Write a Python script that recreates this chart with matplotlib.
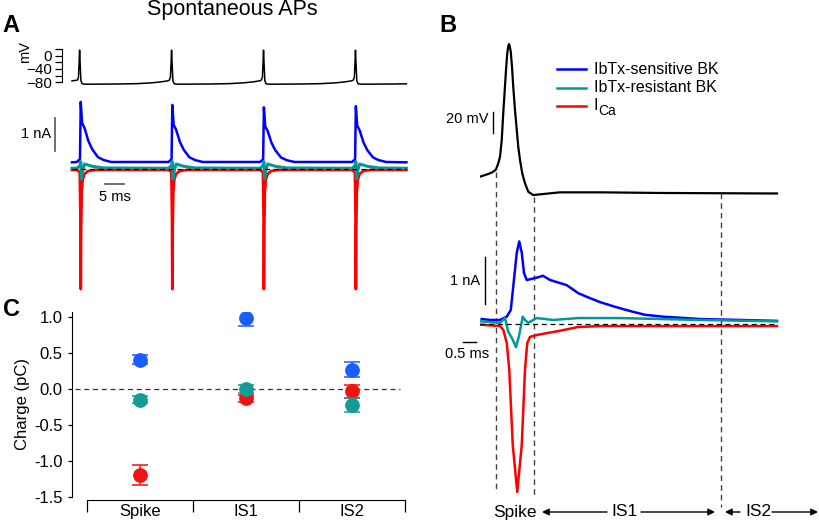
import numpy as np
import matplotlib
matplotlib.use('Agg')
import matplotlib.pyplot as plt
from matplotlib.transforms import blended_transform_factory

plt.rcParams['font.family'] = ['Liberation Sans', 'DejaVu Sans']

W, H = 820, 521

BLUE = '#0000ff'
TEAL = '#009a96'
RED = '#ff0000'
BLUE_M = '#1a5cff'
TEAL_M = '#139c94'
RED_M = '#f21212'

# ---------------- data ----------------
# A, top: spontaneous APs (time ms, mV)
ap_peak_times = [2.0, 26.2, 50.4, 74.6]
ap_dt = [-0.6, -0.3, -0.12, 0.0, 0.15, 0.35, 0.7, 1.5]
ap_mv = [-74, -66, -20, 16, -25, -76, -85, -86]
isi_dt = [4, 10, 15, 19, 21.5, 23.2]
isi_mv = [-86, -85.5, -84.5, -82, -79, -76]
a_start = (0.0, -76)
a_end = (88.0, -85)

# A, bottom: currents during the APs (time ms, nA)
cur_peak_times = [2.3, 26.4, 50.5, 74.7]
blue_dt = [-1.0, -0.2, 0.0, 0.35, 0.5, 1.0, 2.0, 3.0, 4.5, 6.0, 8.0]
blue_na = [0.21, 0.3, 2.03, 1.39, 1.36, 1.24, 0.85, 0.6, 0.36, 0.27, 0.21]
blue_amp = [1.0, 0.95, 0.91, 0.93]
red_dt = [-1.0, -0.25, -0.08, 0.0, 0.1, 0.25, 0.5, 1.0, 2.0, 4.0]
red_na = [-0.03, -0.1, -1.5, -3.64, -1.8, -0.7, -0.33, -0.15, -0.06, -0.03]
teal_dt = [-1.0, -0.2, 0.0, 0.2, 0.5, 1.0, 3.0, 6.0]
teal_na = [0.02, 0.1, 0.22, -0.3, -0.05, 0.15, 0.08, 0.03]

# B: single AP and currents (time ms)
b_t_v = [0, 0.32, 0.48, 0.6, 0.64, 0.73, 0.8, 0.87, 0.93, 0.99, 1.04, 1.09,
         1.13, 1.16, 1.19, 1.23, 1.28, 1.33, 1.4, 1.47, 1.53, 1.6, 1.69, 1.8,
         1.93, 2.13, 2.53, 3.2, 4.8, 7.2, 11.88]
b_mv = [-63.5, -61, -59.5, -57.5, -56.5, -50.8, -44.5, -28.6, -2.9, 19.0,
        38.1, 53.9, 60.9, 62.8, 60.9, 55.5, 41.2, 22.1, 0.0, -19.1, -35,
        -47.6, -60.3, -69.8, -77.8, -81, -80, -78.4, -78.4, -79, -79.5]

b_t_blue = [0.07, 0.4, 0.8, 1.07, 1.23, 1.33, 1.47, 1.57, 1.67, 1.76, 1.87,
            2.27, 2.52, 2.8, 3.47, 3.93, 4.28, 4.8, 5.4, 6.0, 6.6, 7.32,
            8.8, 10.4, 11.88]
b_blue = [0.11, 0.09, 0.09, 0.16, 0.3, 0.8, 1.52, 1.76, 1.52, 1.09, 0.94,
          0.99, 1.03, 0.94, 0.83, 0.66, 0.58, 0.47, 0.37, 0.28, 0.2,
          0.16, 0.11, 0.09, 0.07]
b_t_teal = [0, 0.8, 1.0, 1.13, 1.31, 1.44, 1.57, 1.71, 1.8, 1.93, 2.27, 2.93,
            3.92, 5.6, 8.8, 11.88]
b_teal = [0.06, 0.03, 0.13, -0.16, -0.33, -0.49, -0.23, 0.16, 0.09, 0.03,
          0.13, 0.09, 0.13, 0.13, 0.09, 0.06]
b_t_red = [0, 0.8, 0.93, 1.07, 1.17, 1.31, 1.49, 1.67, 1.8, 1.89, 2.0, 2.27,
           2.67, 3.2, 3.92, 4.8, 11.88]
b_red = [-0.01, -0.04, -0.12, -0.4, -0.97, -2.57, -3.57, -2.57, -0.97, -0.4,
         -0.27, -0.23, -0.19, -0.14, -0.06, -0.04, -0.04]
b_bounds = [0.64, 2.17, 9.64]

# C: charge per period (pC)
cats = ['Spike', 'IS1', 'IS2']
q_sens = [0.41, 0.98, 0.27]
q_sens_err = [0.06, 0.11, 0.10]
q_res = [-0.15, 0.0, -0.22]
q_res_err = [0.05, 0.05, 0.10]
q_ca = [-1.20, -0.13, -0.03]
q_ca_err = [0.14, 0.05, 0.09]


def build(peaks, dt, val, t0, v0, t1, v1, gap_dt=None, gap_v=None, amp=None):
    base = val[0]
    t, v = [t0], [v0]
    for i, p in enumerate(peaks):
        a = 1.0 if amp is None else amp[i]
        t += [p + d for d in dt]
        v += [base + a * (y - base) for y in val]
        nxt = peaks[i + 1] + dt[0] if i + 1 < len(peaks) else t1
        if gap_dt:
            for d, y in zip(gap_dt, gap_v):
                if p + d < nxt:
                    t.append(p + d)
                    v.append(y)
    t.append(t1)
    v.append(v1)
    return t, v


fig = plt.figure(figsize=(W / 100, H / 100), dpi=100)


def px_axes(x0, y0, x1, y1):
    return fig.add_axes([x0 / W, 1 - y1 / H, (x1 - x0) / W, (y1 - y0) / H])


def fx(x):
    return x / W


def fy(y):
    return 1 - y / H


# ---------------- A: voltage ----------------
axv = px_axes(62, 44, 410, 90)
t, v = build(ap_peak_times, ap_dt, ap_mv, a_start[0], a_start[1],
             a_end[0], a_end[1], isi_dt, isi_mv)
axv.plot(t, v, color='k', lw=1.1)
axv.set_xlim(-10 / 3.8, 338 / 3.8)
axv.set_ylim(-103.5, 34.5)
for s in ['top', 'right', 'bottom']:
    axv.spines[s].set_visible(False)
axv.spines['left'].set_bounds(-80, 20)
axv.set_xticks([])
axv.set_yticks([0, -40, -80])
axv.set_yticks([20, -20, -60], minor=True)
axv.tick_params(axis='y', which='both', length=5, width=0.9, pad=2, labelsize=11)
fig.text(fx(25), fy(52), 'mV', rotation=90, ha='center', va='center', fontsize=10.5)

# ---------------- A: currents ----------------
axi = px_axes(62, 95, 410, 295)
tb, ib = build(cur_peak_times, blue_dt, blue_na, 0, 0.2, 88, 0.2, amp=blue_amp)
tr, ir = build(cur_peak_times, red_dt, red_na, 0, -0.03, 88, -0.03)
tt, it = build(cur_peak_times, teal_dt, teal_na, 0, 0.02, 88, 0.02)
axi.plot(tb, ib, color=BLUE, lw=1.8)
axi.plot(tr, ir, color=RED, lw=2.0)
axi.plot(tt, it, color=TEAL, lw=2.2)
axi.axhline(0, xmin=10 / 348, xmax=344 / 348, color='k', lw=0.9, ls=(0, (4, 3)), zorder=5)
axi.set_xlim(-10 / 3.8, 338 / 3.8)
axi.set_ylim(-3.82, 2.24)
axi.axis('off')
# scale bars
axi.plot([-4.5, -4.5], [0.55, 1.55], color='#555555', lw=1.2, clip_on=False)
axi.text(-5.4, 1.05, '1 nA', ha='right', va='center', fontsize=10.5)
axi.plot([8.7, 13.7], [-0.45, -0.45], color='#555555', lw=1.2, clip_on=False)
axi.text(11.2, -0.85, '5 ms', ha='center', va='center', fontsize=10.5)

fig.text(fx(232), fy(15), 'Spontaneous APs', ha='center', va='baseline', fontsize=15.5)

# ---------------- B ----------------
axbv = px_axes(480, 30, 800, 200)
axbv.plot(b_t_v, b_mv, color='k', lw=1.6)
axbv.set_xlim(0, 12.8)
axbv.set_ylim(-85.7, 76.2)
axbv.axis('off')
axbv.plot([0.53, 0.53], [-22, -2], color='k', lw=1.0, clip_on=False)
axbv.text(0.33, -9, '20 mV', ha='right', va='center', fontsize=10.5)

axbi = px_axes(480, 225, 800, 500)
axbi.plot(b_t_blue, b_blue, color=BLUE, lw=1.8)
axbi.plot(b_t_teal, b_teal, color=TEAL, lw=1.8)
axbi.plot(b_t_red, b_red, color=RED, lw=1.8)
axbi.axhline(0, xmin=0, xmax=11.88 / 12.8, color='k', lw=0.9, ls=(0, (4, 3)), zorder=5)
axbi.set_xlim(0, 12.8)
axbi.set_ylim(-3.74, 2.11)
axbi.axis('off')
axbi.plot([0.2, 0.2], [0.43, 1.43], color='k', lw=1.0, clip_on=False)
axbi.text(0.0, 0.91, '1 nA', ha='right', va='center', fontsize=10.5)
axbi.plot([-0.66, -0.16], [-0.38, -0.38], color='k', lw=1.0, clip_on=False)
axbi.text(-0.53, -0.63, '0.5 ms', ha='center', va='center', fontsize=10.5)

# period boundaries
trans = blended_transform_factory(axbv.transData, fig.transFigure)
tops = [172, 197, 193]
bottoms = [493, 497, 507]
for b, y0, y1 in zip(b_bounds, tops, bottoms):
    axbv.plot([b, b], [fy(y0), fy(y1)], transform=trans, color='#444444',
              lw=1.0, ls=(0, (4, 3)), clip_on=False)

# period labels with arrows
ty = fy(512)
arrow = dict(arrowstyle='-|>', color='k', lw=1.0, mutation_scale=10,
             shrinkA=0, shrinkB=0)
axbv.text(1.4, ty, 'Spike', transform=trans, ha='center', va='center', fontsize=12.5)
axbv.text(5.8, ty, 'IS1', transform=trans, ha='center', va='center', fontsize=12.5)
axbv.text(11.12, ty, 'IS2', transform=trans, ha='center', va='center', fontsize=12.5)
for head, tail in [(2.48, 5.08), (9.4, 6.44), (9.8, 10.4), (13.52, 11.68)]:
    axbv.annotate('', xy=(head, ty), xycoords=trans, xytext=(tail, ty),
                  textcoords=trans, arrowprops=arrow, annotation_clip=False)

# legend
leg_labels = ['IbTx-sensitive BK', 'IbTx-resistant BK', 'I']
leg_colors = [BLUE, TEAL, RED]
for k, (lab, col) in enumerate(zip(leg_labels, leg_colors)):
    yy = [69, 88, 106][k]
    fig.add_artist(plt.Line2D([fx(557), fx(586)], [fy(yy), fy(yy)],
                              transform=fig.transFigure, color=col, lw=1.8))
    fig.text(fx(594), fy(yy), lab, ha='left', va='center', fontsize=11.5)
fig.text(fx(598.5), fy(111), 'Ca', ha='left', va='center', fontsize=10)

# ---------------- C ----------------
axc = px_axes(72, 312, 406, 497)
x = np.arange(len(cats))
axc.axhline(0, xmin=3 / 334, xmax=328 / 334, color='#333333', lw=0.9, ls=(0, (4, 3)))
ms = 9.6
axc.errorbar(x, q_sens, yerr=q_sens_err, fmt='o', color=BLUE_M, ms=ms,
             capsize=5.5, elinewidth=1.1, capthick=1.1, zorder=3)
axc.errorbar(x, q_ca, yerr=q_ca_err, fmt='o', color=RED_M, ms=ms,
             capsize=5.5, elinewidth=1.1, capthick=1.1, zorder=3)
axc.errorbar(x, q_res, yerr=q_res_err, fmt='o', color=TEAL_M, ms=ms,
             capsize=5.5, elinewidth=1.1, capthick=1.1, zorder=4)
axc.set_xlim(-0.64, 2.51)
axc.set_ylim(-1.5, 1.07)
axc.spines['top'].set_visible(False)
axc.spines['right'].set_visible(False)
axc.spines['bottom'].set_position(('outward', 2.2))
axc.spines['bottom'].set_bounds(-0.5, 2.5)
axc.set_yticks([1.0, 0.5, 0.0, -0.5, -1.0, -1.5])
axc.set_yticklabels(['1.0', '0.5', '0.0', '-0.5', '-1.0', '-1.5'])
axc.tick_params(axis='y', length=3, width=0.9, pad=4, labelsize=12)
axc.set_xticks([-0.5, 0.5, 1.5, 2.5])
axc.set_xticklabels([])
axc.set_xticks(x, minor=True)
axc.set_xticklabels(cats, minor=True)
axc.tick_params(axis='x', which='major', length=8.5, width=0.9)
axc.tick_params(axis='x', which='minor', length=0, pad=3, labelsize=12)
axc.set_ylabel('Charge (pC)', fontsize=12, labelpad=3)

# panel letters
fig.text(fx(2), fy(32), 'A', fontsize=17, fontweight='bold', va='baseline')
fig.text(fx(439), fy(31.5), 'B', fontsize=17, fontweight='bold', va='baseline')
fig.text(fx(3), fy(316), 'C', fontsize=17, fontweight='bold', va='baseline')

fig.savefig('out.png', dpi=100)
